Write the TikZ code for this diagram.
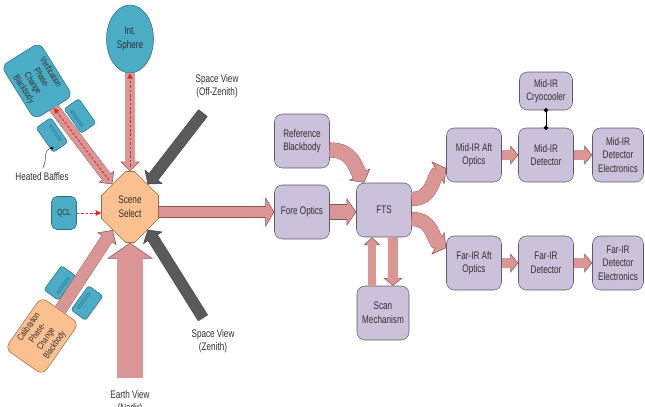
\documentclass[tikz,border=0pt]{standalone}
\usepackage{fontspec}
\setmainfont{Liberation Sans}[FakeStretch=0.74]
\usetikzlibrary{arrows.meta,shapes.geometric,shapes.misc}

\definecolor{boxfill}{HTML}{CCC1DA}
\definecolor{boxedge}{HTML}{5E5868}
\definecolor{tealfill}{HTML}{4BACC6}
\definecolor{tealedge}{HTML}{2B6F82}
\definecolor{orfill}{HTML}{FAC090}
\definecolor{oredge}{HTML}{9C6B45}
\definecolor{arrpink}{HTML}{D99694}
\definecolor{arredge}{HTML}{8E5351}
\definecolor{arrgray}{HTML}{5A5A5A}
\definecolor{grayedge}{HTML}{3C3C3C}
\definecolor{redln}{HTML}{E3262B}
\definecolor{txt}{HTML}{303030}

\tikzset{
  box/.style={draw=boxedge, fill=boxfill, rounded corners=9pt, minimum width=2.2cm, minimum height=2.16cm,
    align=center, text=txt, inner sep=1pt, line width=0.6pt, font=\fontsize{12.5}{15.5}\selectfont},
  tealbox/.style={box, draw=tealedge, fill=tealfill},
  orbox/.style={box, draw=oredge, fill=orfill},
  lbl/.style={align=center, text=txt, font=\fontsize{12.5}{15.5}\selectfont},
  fatarr/.style n args={5}{draw=#4, line width=#1,
    -{Triangle[length=#2, width=#3, line width=0.6pt, color=#5, fill=#4]},
    preaction={-, draw=#5, line width=#1+1.2pt, shorten >=#2-1pt},
    postaction={-, draw=#4, line width=#1, shorten >=#2-1.6pt}},
  pinkarr/.style n args={3}{fatarr={#1}{#2}{#3}{arrpink}{arredge}},
  grayarr/.style n args={3}{fatarr={#1}{#2}{#3}{arrgray}{grayedge}},
  redline/.style={draw=redln, densely dashed, line width=1.1pt, -{Triangle[length=6pt, width=6pt]}},
  baffle/.style={draw=tealedge, fill=tealfill, rounded corners=3pt, line width=0.6pt},
  slot/.style={draw=tealedge, line width=0.5pt},
}

\begin{document}
\begin{tikzpicture}[x=0.04cm, y=-0.04cm]
\useasboundingbox (0,0) rectangle (645,406);

% scene select and what it looks at
\node[orbox, chamfered rectangle, chamfered rectangle sep=0.5cm, sharp corners,
      minimum width=2.28cm, minimum height=2.84cm] (scene) at (130,207) {Scene\\Select};
\node[tealbox, ellipse, sharp corners, minimum width=1.88cm, minimum height=2.72cm] (sphere) at (130,39) {Int.\\Sphere};
\node[tealbox, rotate=-58, minimum width=2.52cm, minimum height=1.8cm, rounded corners=8pt,
      font=\fontsize{10.5}{12}\selectfont] (verif) at (37,81) {Verification\\Phase-\\Change\\Blackbody};
\node[tealbox, minimum width=1cm, minimum height=1.32cm, rounded corners=6pt,
      font=\fontsize{10}{12}\selectfont] (qcl) at (64,213) {QCL};
\node[orbox, rotate=55, minimum width=2.52cm, minimum height=1.84cm, rounded corners=8pt,
      font=\fontsize{10.5}{12}\selectfont] (calib) at (42,336) {Calibration\\Phase-\\Change\\Blackbody};

% heated baffles
\foreach \bx/\by/\ang/\s in {80/116/-55/4, 52/135/-55/-4, 60/283/54/4, 87/303/54/-4}{
  \begin{scope}[shift={(\bx,\by)}, rotate=\ang]
    \draw[baffle] (-15,-9) rectangle (15,9);
    \draw[slot] (-9,\s-1) rectangle (9,\s+1);
  \end{scope}
}
\node[lbl] (hbl) at (42,177) {Heated Baffles};
\fill (52,148) circle (1.8pt);
\draw[thin, shorten >=2pt] (52,148) .. controls (42,150) and (48,158) .. (hbl.north);

\coordinate (offz) at (203,113);
\coordinate (zen) at (203,318);
\coordinate (earth) at (130,378);
\node[lbl] (offzl) at (217,86) {Space View\\(Off-Zenith)};
\node[lbl] (zenl) at (213,341) {Space View\\(Zenith)};
\node[lbl] (earthl) at (130,402) {Earth View\\(Nadir)};

% instrument boxes
\node[box] (refbb) at (302,141) {Reference\\Blackbody};
\node[box] (fore) at (302,212) {Fore Optics};
\node[box] (fts) at (384,210) {FTS};
\node[box, minimum width=2.08cm] (scan) at (383,313) {Scan\\Mechanism};
\node[box, minimum width=2.12cm, minimum height=1.52cm] (cryo) at (546,91) {Mid-IR\\Cryocooler};
\node[box] (midaft) at (474,155) {Mid-IR Aft\\Optics};
\node[box] (middet) at (546,155) {Mid-IR\\Detector};
\node[box, minimum width=2.04cm] (midel) at (618,155) {Mid-IR\\Detector\\Electronics};
\node[box] (faraft) at (474,263) {Far-IR Aft\\Optics};
\node[box] (fardet) at (546,263) {Far-IR\\Detector};
\node[box, minimum width=2.04cm] (farel) at (618,263) {Far-IR\\Detector\\Electronics};

% views into the scene select
\draw[pinkarr={11pt}{11pt}{22pt}] (sphere.south) -- (sphere.south |- scene.north);
\draw[redline, shorten <=5pt] (sphere.south |- scene.north) -- (sphere.south);
\draw[pinkarr={11pt}{11pt}{22pt}] (verif.east) -- (scene.128);
\draw[redline, shorten <=6pt] (scene.128) -- (verif.east);
\draw[pinkarr={13pt}{12pt}{26pt}] (calib.east) -- (scene.-127);
\draw[pinkarr={29pt}{18pt}{52pt}] (earth) -- (earth |- scene.south);
\draw[grayarr={12pt}{11pt}{26pt}] (offz) -- (scene.52);
\draw[grayarr={12pt}{11pt}{26pt}] (zen) -- (scene.-52);
\draw[redline] (qcl.east) -- (qcl.east -| scene.west);

% optical path
\draw[pinkarr={12.5pt}{10pt}{34pt}] (fore.west -| scene.east) -- (fore.west);
\draw[pinkarr={17pt}{11pt}{32pt}] (fore.east) -- (fore.east -| fts.west);
\draw[pinkarr={16pt}{11pt}{28pt}] ([shift={(0,9)}]refbb.east) .. controls +(22,0) and +(-10,-18) .. ([shift={(8,0)}]fts.north west);
\coordinate (scanup) at ([xshift=-0.44cm]scan.north);
\coordinate (ftsdn) at ([xshift=0.36cm]fts.south);
\draw[pinkarr={9pt}{9pt}{19pt}] (scanup) -- (scanup |- fts.south);
\draw[pinkarr={11pt}{9pt}{22pt}] (ftsdn) -- (ftsdn |- scan.north);
\draw[pinkarr={15pt}{11pt}{30pt}] ([shift={(0,-11)}]fts.east) .. controls +(22,0) and +(-14,8) .. ([shift={(0,13)}]midaft.west);
\draw[pinkarr={15pt}{11pt}{30pt}] ([shift={(0,9)}]fts.east) .. controls +(22,0) and +(-14,-8) .. ([shift={(0,-15)}]faraft.west);
\foreach \a/\b in {midaft/middet, middet/midel, faraft/fardet, fardet/farel}
  \draw[pinkarr={11pt}{9pt}{22pt}] (\a.east) -- (\b.west);
\draw[line width=1pt, {Circle[length=5pt]}-{Circle[length=5pt]}, shorten <=-2.5pt, shorten >=-2.5pt] (cryo.south) -- (middet.north);
\end{tikzpicture}
\end{document}
